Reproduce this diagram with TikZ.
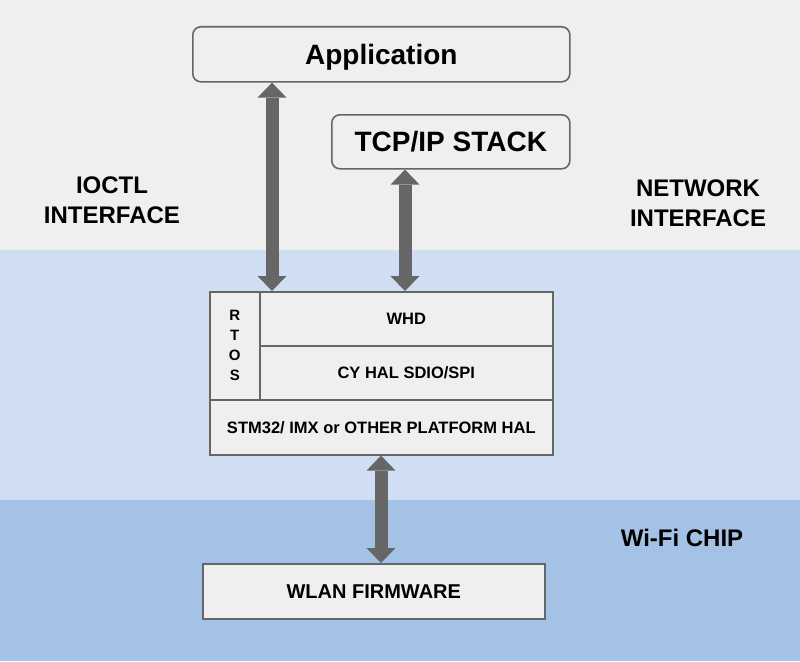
\documentclass[tikz,border=0pt]{standalone}
\usepackage{fontspec}
\setmainfont{Liberation Sans}
\usetikzlibrary{arrows.meta}
\definecolor{bandA}{HTML}{EFEFEF}
\definecolor{bandB}{HTML}{CFDEF2}
\definecolor{bandC}{HTML}{A4C2E6}
\definecolor{boxfill}{HTML}{EFEFEF}
\definecolor{edge}{HTML}{666666}
\definecolor{arr}{HTML}{666666}
\begin{document}
\begin{tikzpicture}[x=1pt,y=-1pt,
  lay/.style={draw=edge, line width=1.6pt, fill=boxfill, inner sep=0pt, anchor=north west, font=\bfseries\fontsize{16.5}{19}\selectfont, text=black},
  roundbox/.style={lay, rounded corners=8pt, font=\bfseries\fontsize{28}{34}\selectfont},
  lbl/.style={font=\bfseries\fontsize{24}{30}\selectfont, align=center, text=black},
  bigarrow/.style={draw=arr, line width=13pt,
    {Triangle[width=29pt 0 0,length=15pt 0 0,line width=0pt,fill=arr]}-{Triangle[width=29pt 0 0,length=15pt 0 0,line width=0pt,fill=arr]}}
]
\useasboundingbox (0,0) rectangle (800,661);
\fill[bandA] (0,0) rectangle (800,250);
\fill[bandB] (0,250) rectangle (800,500);
\fill[bandC] (0,500) rectangle (800,661);

% top boxes
\node[roundbox, minimum width=377pt, minimum height=55pt, text depth=0pt] (app) at (192,26) {Application};
\node[roundbox, minimum width=238pt, minimum height=54pt] (tcp) at (331,114) {TCP/IP STACK};

% stack
\node[lay, minimum width=50pt, minimum height=108pt, align=center, font=\bfseries\fontsize{15}{20}\selectfont] (rtos) at (209,291) {R\\T\\O\\S};
\node[lay, minimum width=293pt, minimum height=54pt] (whd) at (259,291) {WHD};
\node[lay, minimum width=293pt, minimum height=54pt] (cyhal) at (259,345) {CY HAL SDIO/SPI};
\node[lay, minimum width=343pt, minimum height=55pt] (plat) at (209,399) {STM32/ IMX or OTHER PLATFORM HAL};

% firmware
\node[lay, minimum width=342pt, minimum height=55pt, font=\bfseries\fontsize{20}{24}\selectfont] (wlan) at (202,563) {WLAN FIRMWARE};

% labels
\node[lbl] (ioctl) at (112,200) {IOCTL\\INTERFACE};
\node[lbl] (net) at (698,203) {NETWORK\\INTERFACE};
\node[lbl] (chip) at (682,538) {Wi-Fi CHIP};

% arrows
\coordinate (xa) at (272,0);
\coordinate (xb) at (405,0);
\coordinate (xc) at (381,0);
\draw[bigarrow] (app.south -| xa) -- (whd.north -| xa);
\draw[bigarrow] (tcp.south -| xb) -- (whd.north -| xb);
\draw[bigarrow] (plat.south -| xc) -- (wlan.north -| xc);
\end{tikzpicture}
\end{document}
